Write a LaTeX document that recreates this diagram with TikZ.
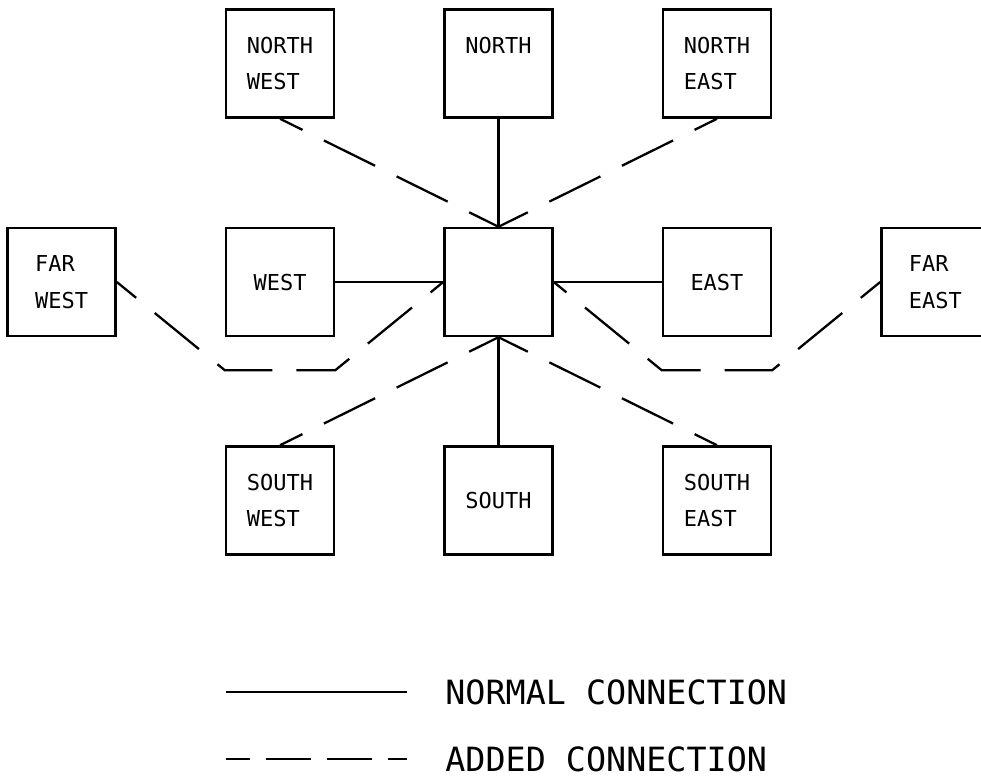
\documentclass[tikz,border=0pt]{standalone}
\usepackage{fontspec}
\setmonofont{DejaVu Sans Mono}
\usetikzlibrary{positioning}
\begin{document}
\begin{tikzpicture}[
		box/.style={draw,line width=1.4pt,minimum width=2.16cm,minimum height=2.16cm,
			align=left,font=\ttfamily\fontsize{12.5}{21}\selectfont},
		normal/.style={line width=1.3pt},
		added/.style={line width=1.3pt,dash pattern=on 1.14cm off 0.48cm,dash phase=0.64cm},
		key/.style={inner sep=0pt,anchor=west,font=\ttfamily\fontsize{19}{24}\selectfont},
		node distance=2.16cm]
			\useasboundingbox (0,0) rectangle (19.62,-15.64);
			\clip (0,0) rectangle (19.62,-15.64);
			\node[box] (hub) at (9.97,-5.64) {};
			\node[box,left=of hub] (west) {WEST};
			\node[box,left=of west] (farwest) {FAR\\WEST};
			\node[box,right=of hub] (east) {EAST};
			\node[box,right=of east] (fareast) {FAR\\EAST};
			\node[box,above=of hub] (north) {NORTH\\\mbox{}};
			\node[box,above=of west] (northwest) {NORTH\\WEST};
			\node[box,above=of east] (northeast) {NORTH\\EAST};
			\node[box,below=of hub] (south) {SOUTH};
			\node[box,below=of west] (southwest) {SOUTH\\WEST};
			\node[box,below=of east] (southeast) {SOUTH\\EAST};
			\draw[normal] (north) -- (hub);
			\draw[normal] (south) -- (hub);
			\draw[normal] (west) -- (hub);
			\draw[normal] (east) -- (hub);
			\draw[added] (northwest.south) -- (hub.north);
			\draw[added] (northeast.south) -- (hub.north);
			\draw[added] (southwest.north) -- (hub.south);
			\draw[added] (southeast.north) -- (hub.south);
			\coordinate (fw1) at ([yshift=-0.66cm]west.south west);
			\coordinate (fw2) at ([yshift=-0.66cm]west.south east);
			\coordinate (fe1) at ([yshift=-0.66cm]east.south east);
			\coordinate (fe2) at ([yshift=-0.66cm]east.south west);
			\draw[added] (farwest.east) -- (fw1) -- (fw2) -- (hub.west);
			\draw[added] (fareast.west) -- (fe1) -- (fe2) -- (hub.east);
			\coordinate (n1) at (4.52,-13.84);
			\coordinate (n2) at (8.14,-13.84);
			\coordinate (a1) at (4.52,-15.18);
			\coordinate (a2) at (8.14,-15.18);
			\draw[normal] (n1) -- (n2);
			\draw[added,dash pattern=on 0.9cm off 0.32cm,dash phase=0.42cm] (a1) -- (a2);
			\node[key,right=0.76cm of n2] (normkey) {NORMAL CONNECTION};
			\node[key,right=0.76cm of a2] (addkey) {ADDED CONNECTION};
		\end{tikzpicture}
\end{document}
